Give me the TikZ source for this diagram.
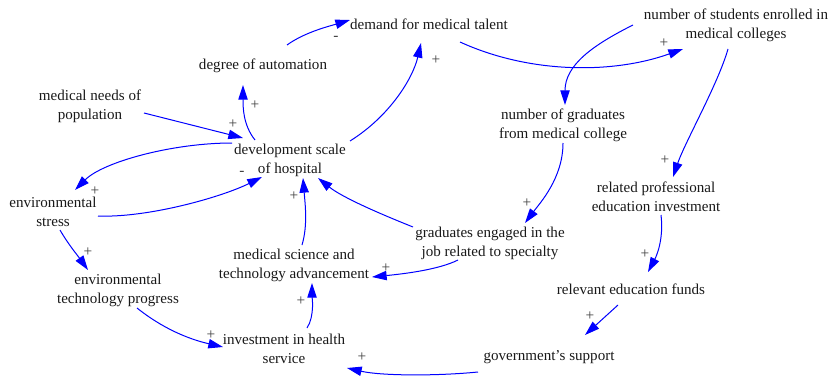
\documentclass[tikz,border=0pt]{standalone}
\usepackage{fontspec}
\setmainfont{Liberation Serif}
\usetikzlibrary{arrows.meta,calc}

\begin{document}
\begin{tikzpicture}[
  x=0.75pt, y=-0.75pt,
  var/.style={inner sep=0pt, align=center, text=black!90,
              font=\fontsize{11.3}{14.25}\selectfont},
  sign/.style={inner sep=0pt, text=black!75,
               font=\fontsize{11.5}{13}\selectfont},
  link/.style={draw=blue, line width=0.75pt,
               -{Triangle[length=11pt,width=7pt]}},
]
\useasboundingbox (0,0) rectangle (830,378);

% variables
\node[var] (dmt) at (429,24)  {demand for medical talent};
\node[var] (nse) at (736,25)  {number of students enrolled in\\medical colleges};
\node[var] (doa) at (263,66)  {degree of automation};
\node[var] (mnp) at (90,106)  {medical needs of\\population};
\node[var] (dev) at (290,160) {development scale\\of hospital};
\node[var] (ngm) at (563,125) {number of graduates\\from medical college};
\node[var] (env) at (53,212)  {environmental\\stress};
\node[var] (rpe) at (656,197) {related professional\\education investment};
\node[var] (gej) at (490,243) {graduates engaged in the\\job related to specialty};
\node[var] (mst) at (294,265) {medical science and\\technology advancement};
\node[var] (etp) at (118,290) {environmental\\technology progress};
\node[var] (ref) at (631,289) {relevant education funds};
\node[var] (ihs) at (284,349) {investment in health\\service};
\node[var] (gov) at (549,357) {government’s support};

% causal links
\draw[link] ($(doa)+(24,-21)$) .. controls +(18,-13) and +(-20,6) .. ($(dmt)+(-79,-4)$);
\draw[link] ($(dev)+(-35,-20)$) .. controls +(-12,-15) and +(0,22) .. ($(doa)+(-20,19)$);
\draw[link] ($(mnp)+(54,7)$) -- ($(dev)+(-47,-22)$);
\draw[link] ($(dev)+(-58,-17)$) .. controls +(-60,0) and +(28,-28) .. ($(env)+(22,-22)$);
\draw[link] ($(env)+(45,4)$) .. controls +(50,2) and +(-40,20) .. ($(dev)+(-28,17)$);
\draw[link] ($(dev)+(60,-19)$) .. controls +(40,-25) and +(-8,35) .. ($(dmt)+(-8,19)$);
\draw[link] ($(dmt)+(31,18)$) .. controls +(70,32) and +(-70,25) .. ($(nse)+(-53,24)$);
\draw[link] ($(nse)+(-103,0)$) .. controls +(-40,20) and +(0,-40) .. ($(ngm)+(2,-20)$);
\draw[link] ($(nse)+(-8,24)$) .. controls +(-10,35) and +(12,-35) .. ($(rpe)+(17,-20)$);
\draw[link] ($(ngm)+(0,18)$) .. controls +(0,35) and +(15,-20) .. ($(gej)+(35,-20)$);
\draw[link] ($(gej)+(-77,-16)$) .. controls +(-30,-12) and +(25,20) .. ($(dev)+(28,18)$);
\draw[link] ($(gej)+(-32,17)$) .. controls +(-20,10) and +(30,-3) .. ($(mst)+(78,12)$);
\draw[link] ($(mst)+(8,-20)$) .. controls +(6,-20) and +(2,25) .. ($(dev)+(13,18)$);
\draw[link] ($(ihs)+(23,-21)$) .. controls +(8,-12) and +(0,12) .. ($(mst)+(18,18)$);
\draw[link] ($(env)+(7,18)$) .. controls +(8,14) and +(-10,-14) .. ($(etp)+(-30,-20)$);
\draw[link] ($(etp)+(19,18)$) .. controls +(25,20) and +(-35,-8) .. ($(ihs)+(-61,-2)$);
\draw[link] ($(rpe)+(5,18)$) .. controls +(3,25) and +(8,-15) .. ($(ref)+(17,-17)$);
\draw[link] ($(ref)+(-13,16)$) -- ($(gov)+(36,-22)$);
\draw[link] ($(gov)+(-71,15)$) .. controls +(-40,4) and +(35,8) .. ($(ihs)+(63,19)$);

% polarity signs
\node[sign] (s1)  at (336,38)  {-};
\node[sign] (s2)  at (255,105) {+};
\node[sign] (s3)  at (233,124) {+};
\node[sign] (s4)  at (95,191)  {+};
\node[sign] (s5)  at (242,173) {-};
\node[sign] (s6)  at (436,60)  {+};
\node[sign] (s7)  at (664,43)  {+};
\node[sign] (s8)  at (665,160) {+};
\node[sign] (s9)  at (527,203) {+};
\node[sign] (s10) at (386,268) {+};
\node[sign] (s11) at (294,196) {+};
\node[sign] (s12) at (301,301) {+};
\node[sign] (s13) at (88,252)  {+};
\node[sign] (s14) at (211,335) {+};
\node[sign] (s15) at (645,254) {+};
\node[sign] (s16) at (590,316) {+};
\node[sign] (s17) at (362,357) {+};
\end{tikzpicture}
\end{document}
